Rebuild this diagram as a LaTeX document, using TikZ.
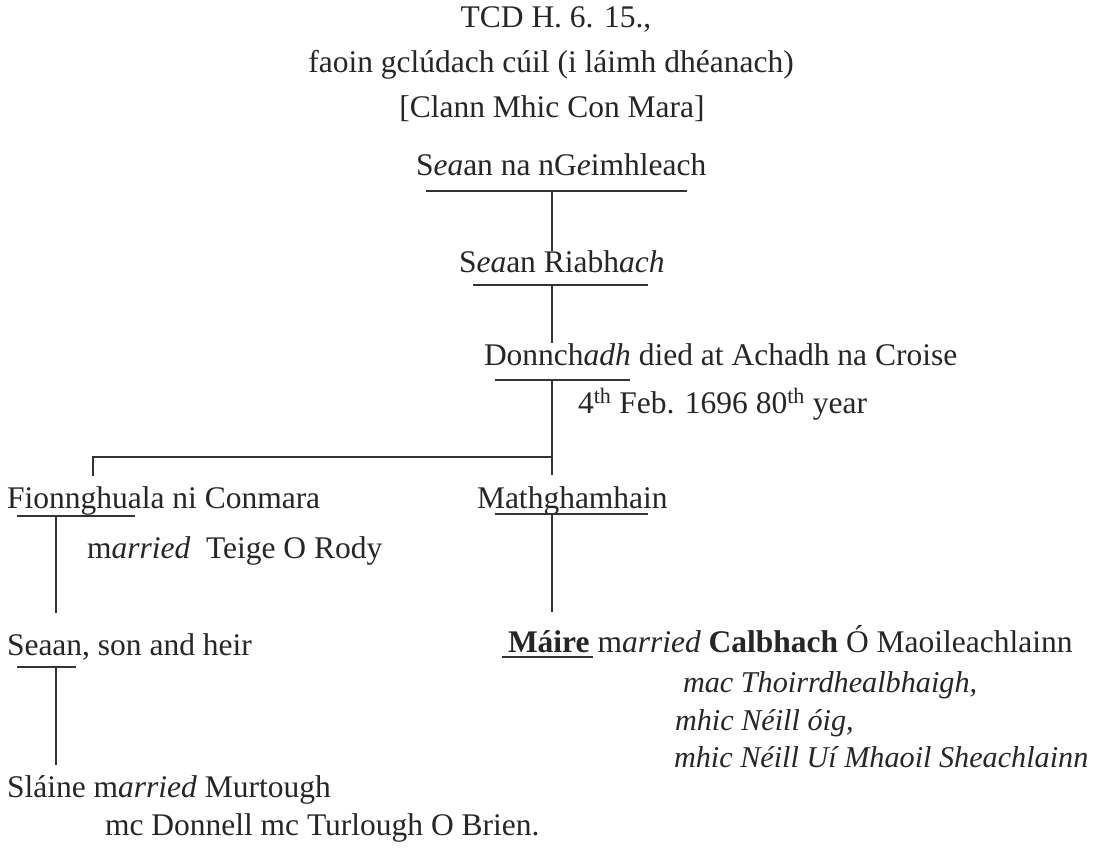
\documentclass[tikz,border=0pt]{standalone}
\usepackage{fontspec}
\setmainfont{Liberation Serif}
\begin{document}
\begin{tikzpicture}[x=1pt,y=-1pt,
  txt/.style={inner sep=0pt, outer sep=0pt, anchor=base west, font=\fontsize{31.5}{38}\selectfont, text=black!85},
  ctxt/.style={txt, anchor=base},
  itxt/.style={txt, font=\fontsize{30.2}{36}\selectfont\itshape},
  ln/.style={line width=1.3pt, draw=black!80}]
\useasboundingbox[fill=white] (0,0) rectangle (1103,849);

% header
\node[ctxt] (tcd) at (556,27) {TCD H. 6. 15.,};
\node[ctxt] (faoin) at (551,72) {faoin gclúdach cúil (i láimh dhéanach)};
\node[ctxt] (clann) at (552,117) {[Clann Mhic Con Mara]};

% generation 1
\node[txt] (sg) at (416,175) {S\textit{ea}an na nG\textit{e}imhleach};
\coordinate (u1l) at (426,191); \coordinate (u1r) at (687,191);
\coordinate (j1) at (552,191);

% generation 2
\node[txt] (sr) at (459,272) {S\textit{ea}an Riabh\textit{ach}};
\coordinate (t2) at (552,251);
\coordinate (u2l) at (473,285); \coordinate (u2r) at (648,285);
\coordinate (j2) at (552,285);

% generation 3
\node[txt] (don) at (484,365) {Donnch\textit{adh} died at Achadh na Croise};
\node[txt] (feb) at (578,413) {4\textsuperscript{th} Feb. 1696 80\textsuperscript{th} year};
\coordinate (t3) at (552,343);
\coordinate (u3l) at (495,380); \coordinate (u3r) at (630,380);
\coordinate (j3) at (552,380);
\coordinate (bar) at (552,457);
\coordinate (barl) at (93,457);
\coordinate (barld) at (93,476);
\coordinate (barrd) at (552,475);

% generation 4
\node[txt] (fio) at (7,508) {Fionnghuala ni Conmara};
\node[txt] (mar1) at (87,558) {m\textit{arried}\ \ Teige O Rody};
\node[txt] (mat) at (477,508) {Mathghamhain};
\coordinate (u4l) at (17,516); \coordinate (u4r) at (135,516);
\coordinate (j4) at (56,516);
\coordinate (u5l) at (495,514); \coordinate (u5r) at (648,514);
\coordinate (j5) at (552,514);

% generation 5
\node[txt] (seh) at (7,655) {Seaan, son and heir};
\coordinate (t4) at (56,613);
\coordinate (t5) at (552,612);
\node[txt] (mai) at (508,652) {\textbf{Máire} m\textit{arried} \textbf{Calbhach} Ó Maoileachlainn};
\coordinate (u7l) at (502,657); \coordinate (u7r) at (593,657);
\node[itxt] (it1) at (683,692) {mac Thoirrdhealbhaigh,};
\node[itxt] (it2) at (675,730) {mhic Néill óig,};
\node[itxt] (it3) at (674,767) {mhic Néill Uí Mhaoil Sheachlainn};
\coordinate (u6l) at (17,667); \coordinate (u6r) at (76,667);
\coordinate (j6) at (56,667);

% generation 6
\node[txt] (sla) at (7,797) {Sláine m\textit{arried} Murtough};
\node[txt] (mcd) at (105,835) {mc Donnell mc Turlough O Brien.};
\coordinate (t6) at (56,765);

% lines
\draw[ln] (u1l) -- (u1r);
\draw[ln] (j1) -- (t2);
\draw[ln] (u2l) -- (u2r);
\draw[ln] (j2) -- (t3);
\draw[ln] (u3l) -- (u3r);
\draw[ln] (j3) -- (barrd);
\draw[ln] (barld) -- (barl) -- (bar);
\draw[ln] (u4l) -- (u4r);
\draw[ln] (j4) -- (t4);
\draw[ln] (u5l) -- (u5r);
\draw[ln] (j5) -- (t5);
\draw[ln] (u6l) -- (u6r);
\draw[ln] (j6) -- (t6);
\draw[ln] (u7l) -- (u7r);
\end{tikzpicture}
\end{document}
